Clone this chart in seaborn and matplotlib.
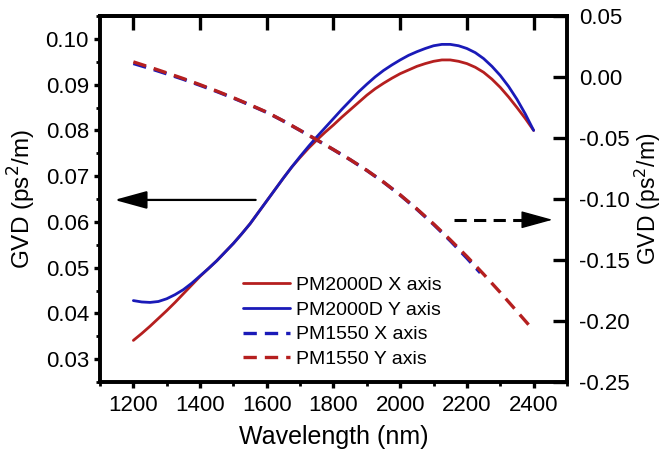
import numpy as np
import pandas as pd
import matplotlib
matplotlib.use("Agg")
import matplotlib.pyplot as plt
import seaborn as sns

# wavelength grid (nm) for the PM2000D curves
wl = [1200, 1225, 1250, 1275, 1300, 1325, 1350, 1375, 1400, 1425, 1450, 1475, 1500,
      1525, 1550, 1575, 1600, 1625, 1650, 1675, 1700, 1725, 1750, 1775, 1800, 1825,
      1850, 1875, 1900, 1925, 1950, 1975, 2000, 2025, 2050, 2075, 2100, 2125, 2150,
      2175, 2200, 2225, 2250, 2275, 2300, 2325, 2350, 2375, 2400]

# PM2000D, left axis (ps^2/m)
pm2000_x = [0.0341, 0.0356, 0.0372, 0.0389, 0.0406, 0.0424, 0.0443, 0.0462, 0.0481,
            0.0498, 0.0515, 0.0534, 0.0553, 0.0574, 0.0596, 0.0621, 0.0646, 0.0671,
            0.0696, 0.0720, 0.0741, 0.0761, 0.0779, 0.0796, 0.0812, 0.0829, 0.0845,
            0.0861, 0.0877, 0.0891, 0.0903, 0.0914, 0.0924, 0.0932, 0.0940, 0.0946,
            0.0951, 0.0954, 0.0954, 0.0951, 0.0946, 0.0938, 0.0927, 0.0912, 0.0894,
            0.0873, 0.0850, 0.0826, 0.0800]
pm2000_y = [0.0428, 0.0425, 0.0424, 0.0426, 0.0432, 0.0441, 0.0452, 0.0466, 0.0482,
            0.0498, 0.0515, 0.0534, 0.0553, 0.0574, 0.0596, 0.0621, 0.0646, 0.0671,
            0.0696, 0.0720, 0.0743, 0.0765, 0.0786, 0.0806, 0.0826, 0.0846, 0.0865,
            0.0884, 0.0901, 0.0917, 0.0931, 0.0943, 0.0954, 0.0964, 0.0972, 0.0979,
            0.0985, 0.0988, 0.0988, 0.0985, 0.0979, 0.0970, 0.0957, 0.0940, 0.0920,
            0.0896, 0.0868, 0.0836, 0.0800]

# PM1550, right axis (ps^2/m)
wl_1550y = [1200, 1250, 1300, 1350, 1400, 1450, 1500, 1550, 1600, 1650, 1700, 1750, 1800,
            1850, 1900, 1950, 2000, 2050, 2100, 2150, 2200, 2250, 2300, 2350, 2390]
pm1550_y = [0.0124, 0.0080, 0.0034, -0.0013, -0.0063, -0.0115, -0.0170, -0.0228, -0.0288,
            -0.0360, -0.0437, -0.0515, -0.0595, -0.0677, -0.0765, -0.0861, -0.0966,
            -0.1081, -0.1204, -0.1334, -0.1471, -0.1616, -0.1766, -0.1921, -0.2046]
wl_1550x = [1200, 1250, 1300, 1350, 1400, 1450, 1500, 1550, 1600, 1650, 1700, 1750, 1800,
            1850, 1900, 1950, 2000, 2050, 2100, 2150, 2200, 2240]
pm1550_x = [0.0111, 0.0070, 0.0026, -0.0019, -0.0068, -0.0119, -0.0173, -0.0230, -0.0290,
            -0.0361, -0.0438, -0.0516, -0.0596, -0.0678, -0.0766, -0.0862, -0.0968,
            -0.1084, -0.1208, -0.1342, -0.1485, -0.1605]

red = "#B51F1F"
blue = "#1A1AB8"

sns.set_style("ticks")
plt.rcParams["font.family"] = ["Liberation Sans", "DejaVu Sans"]
plt.rcParams["text.color"] = "black"
plt.rcParams["axes.labelcolor"] = "black"
plt.rcParams["xtick.color"] = "black"
plt.rcParams["ytick.color"] = "black"

fig = plt.figure(figsize=(6.65, 4.55), dpi=100)
ax = fig.add_axes([0.1504, 0.1604, 0.7022, 0.8044])
ax2 = ax.twinx()

sns.lineplot(x=wl, y=pm2000_x, ax=ax, color=red, lw=2.0, label="PM2000D X axis", legend=False)
sns.lineplot(x=wl, y=pm2000_y, ax=ax, color=blue, lw=2.0, label="PM2000D Y axis", legend=False)
sns.lineplot(x=wl_1550x, y=pm1550_x, ax=ax2, color=blue, lw=2.4,
             linestyle=(0, (4, 2.4)), label="PM1550 X axis", legend=False)
sns.lineplot(x=wl_1550y, y=pm1550_y, ax=ax2, color=red, lw=2.4,
             linestyle=(0, (4, 2.4)), label="PM1550 Y axis", legend=False)

ax.set_xlim(1100, 2500)
ax.set_ylim(0.025, 0.105)
ax2.set_ylim(-0.25, 0.05)

ax.set_xticks([1200, 1400, 1600, 1800, 2000, 2200, 2400])
ax.set_xticks(np.arange(1100, 2501, 100), minor=True)
ax.set_yticks([0.03, 0.04, 0.05, 0.06, 0.07, 0.08, 0.09, 0.10])
ax.set_yticks(np.arange(0.025, 0.1051, 0.005), minor=True)
ax.yaxis.set_major_formatter(matplotlib.ticker.FormatStrFormatter("%.2f"))
ax2.set_yticks([-0.25, -0.20, -0.15, -0.10, -0.05, 0.00, 0.05])
ax2.yaxis.set_major_formatter(matplotlib.ticker.FormatStrFormatter("%.2f"))

for a in (ax, ax2):
    for s in a.spines.values():
        s.set_linewidth(2.6)
        s.set_color("black")

ax.tick_params(axis="both", which="major", direction="out", length=4, width=2.4,
               labelsize=16, color="black")
ax.tick_params(axis="y", which="major", pad=4)
ax.tick_params(axis="x", which="major", pad=5)
ax.tick_params(axis="both", which="minor", direction="out", length=3, width=2.0)
ax.tick_params(axis="x", which="both", top=False)
ax2.tick_params(axis="y", which="major", direction="in", length=10, width=2.4,
                labelsize=16, pad=9)
ax2.tick_params(axis="y", which="minor", right=False)

# top ticks pointing inward
top = ax.secondary_xaxis("top")
top.set_xticks([1200, 1400, 1600, 1800, 2000, 2200, 2400])
top.tick_params(direction="in", length=10, width=2.4, labeltop=False)
top.spines["top"].set_linewidth(2.6)

ax.set_xlabel("Wavelength (nm)", fontsize=18)
ax.set_ylabel("GVD (ps$^2$/m)", fontsize=17.5)
ax2.set_ylabel("GVD (ps$^2$/m)", fontsize=16.5, rotation=90)
ax.xaxis.set_label_coords(0.501, -0.118)
ax.yaxis.set_label_coords(-0.133, 0.5)
ax2.yaxis.set_label_coords(1.140, 0.5)

# direction arrows
ax.annotate("", xy=(1135, 0.0648), xytext=(1575, 0.0648),
            arrowprops=dict(arrowstyle="-|>,head_length=2.0,head_width=0.55",
                            mutation_scale=10, color="black", lw=1.6))
ax2.plot([2160, 2400], [-0.117, -0.117], color="black", lw=2.2, linestyle=(0, (4, 2.4)))
ax2.annotate("", xy=(2465, -0.117), xytext=(2390, -0.117),
             arrowprops=dict(arrowstyle="-|>,head_length=2.0,head_width=0.55",
                             mutation_scale=10, color="black", lw=1.0))

h1, l1 = ax.get_legend_handles_labels()
h2, l2 = ax2.get_legend_handles_labels()
ax2.legend(h1 + h2, l1 + l2, loc="center left", bbox_to_anchor=(0.306, 0.163),
           frameon=False, fontsize=14, handlelength=2.42, handletextpad=0.3,
           labelspacing=0.36, borderpad=0, borderaxespad=0)

fig.savefig("out.png", dpi=100)
